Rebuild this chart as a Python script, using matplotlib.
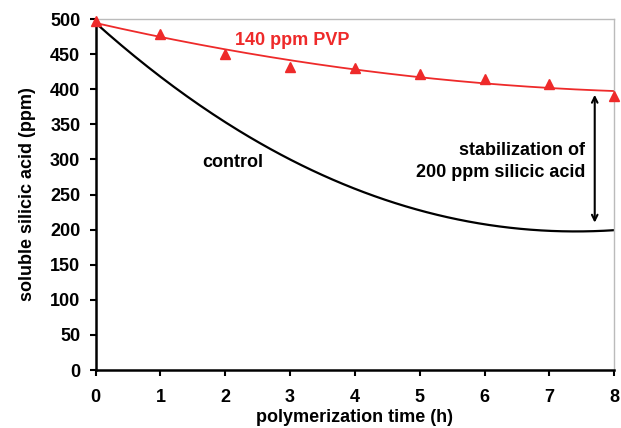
import matplotlib
matplotlib.use("Agg")
import matplotlib.pyplot as plt
import numpy as np

plt.rcParams['font.family'] = ['Liberation Sans', 'DejaVu Sans']
plt.rcParams['font.weight'] = 'bold'

################################################################################

hours = [0, 1, 2, 3, 4, 5, 6, 7, 8]
pvp = [497, 479, 450, 432, 430, 421, 414, 407, 390]
control = [497, 413, 352, 304, 260, 226, 206, 198, 200]

################################################################################

fig = plt.figure(figsize=(6.21, 4.28), dpi=100)
ax = fig.add_axes([0.154, 0.1355, 0.835, 0.82])

t = np.linspace(0, 8, 200)
# trendlines through the points
c_pvp = np.polyfit(hours, pvp, 2)
c_ctl = np.polyfit(hours, control, 3)
ax.plot(t, np.polyval(c_ctl, t), color='black', lw=1.6)
ax.plot(t, np.polyval(c_pvp, t), color='#ee2a2a', lw=1.3)
ax.plot(hours, pvp, ls='none', marker='^', color='#ee2a2a', ms=7, clip_on=False, zorder=5)

ax.annotate('', xy=(7.7, 206), xytext=(7.7, 396),
            arrowprops=dict(arrowstyle='<->', color='black', lw=1.5))

fs = 13
ax.text(3.04, 470, '140 ppm PVP', color='#ee2a2a', fontsize=fs, fontweight='bold', ha='center', va='center')
ax.text(2.11, 295, 'control', fontsize=fs, fontweight='bold', ha='center', va='center')
ax.text(7.55, 313, 'stabilization of', fontsize=fs, fontweight='bold', ha='right', va='center')
ax.text(7.55, 282, '200 ppm silicic acid', fontsize=fs, fontweight='bold', ha='right', va='center')

ax.set_xlim(0, 8)
ax.set_ylim(0, 500)
ax.set_xticks(range(0, 9))
ax.set_yticks(range(0, 501, 50))
ax.tick_params(labelsize=fs, width=1.5, length=4, direction='out')
ax.tick_params(axis='x', pad=10)
ax.tick_params(axis='y', pad=7)
for lab in ax.get_xticklabels() + ax.get_yticklabels():
    lab.set_fontweight('bold')
for s in ['left', 'bottom']:
    ax.spines[s].set_linewidth(1.8)
for s in ['top', 'right']:
    ax.spines[s].set_color('#bbbbbb')
    ax.spines[s].set_linewidth(1)

ax.set_xlabel('polymerization time (h)', fontsize=fs, fontweight='bold', labelpad=2)
ax.set_ylabel('soluble silicic acid (ppm)', fontsize=fs, fontweight='bold', labelpad=10)

fig.savefig('out.png', dpi=100)
